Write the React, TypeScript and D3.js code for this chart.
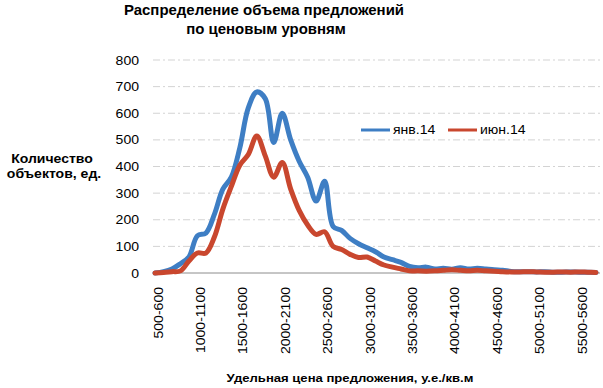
import React, { useRef, useEffect } from 'react';
import * as d3 from 'd3';

// price bands, step 100
const categories: string[] = [
  '500-600', '600-700', '700-800', '800-900', '900-1000',
  '1000-1100', '1100-1200', '1200-1300', '1300-1400', '1400-1500',
  '1500-1600', '1600-1700', '1700-1800', '1800-1900', '1900-2000',
  '2000-2100', '2100-2200', '2200-2300', '2300-2400', '2400-2500',
  '2500-2600', '2600-2700', '2700-2800', '2800-2900', '2900-3000',
  '3000-3100', '3100-3200', '3200-3300', '3300-3400', '3400-3500',
  '3500-3600', '3600-3700', '3700-3800', '3800-3900', '3900-4000',
  '4000-4100', '4100-4200', '4200-4300', '4300-4400', '4400-4500',
  '4500-4600', '4600-4700', '4700-4800', '4800-4900', '4900-5000',
  '5000-5100', '5100-5200', '5200-5300', '5300-5400', '5400-5500',
  '5500-5600', '5600-5700', '5700-5800',
];

const jan14: number[] = [
  0, 5, 15, 35, 60, 140, 150, 220, 315, 360,
  470, 620, 680, 655, 490, 600, 500, 420, 360, 270,
  345, 175, 160, 130, 110, 95, 80, 60, 50, 40,
  25, 20, 22, 15, 18, 14, 20, 15, 18, 15,
  12, 10, 6, 5, 5, 4, 5, 3, 3, 4,
  3, 3, 2,
];

const jun14: number[] = [
  0, 2, 5, 8, 45, 75, 75, 135, 240, 325,
  405, 445, 515, 440, 360, 415, 315, 235, 180, 145,
  155, 100, 88, 70, 58, 60, 45, 30, 22, 15,
  8, 8, 7, 8, 10, 12, 10, 8, 10, 8,
  7, 5, 4, 4, 5, 4, 3, 3, 4, 3,
  4, 3, 2,
];

const yTicks: number[] = [0, 100, 200, 300, 400, 500, 600, 700, 800];

const seriesNames = ['янв.14', 'июн.14'];
const seriesColors = ['#3e7ec4', '#c9472e'];

const FONT = '"Liberation Sans", Arial, sans-serif';
const SX = 1.17; // glyphs in the source are a bit wider than Arial

const App = () => {
  const svgRef = useRef<SVGSVGElement>(null);

  useEffect(() => {
    const width = 603;
    const height = 388;
    const left = 153;
    const right = 600;
    const top = 60;
    const bottom = 273;

    const svg = d3.select(svgRef.current)
      .attr('width', width)
      .attr('height', height);

    svg.selectAll('*').remove();

    const x = d3.scalePoint<string>()
      .domain(categories)
      .range([155, 596]);

    const y = d3.scaleLinear()
      .domain([0, 800])
      .range([bottom, top]);

    const label = (g: any, tx: number, ty: number, text: string, opts: any = {}) =>
      g.append('text')
        .attr('transform', `translate(${tx},${ty})${opts.rotate ? ' rotate(-90)' : ''} scale(${opts.sx || SX},1)`)
        .attr('font-family', FONT)
        .attr('font-size', opts.size || 12)
        .attr('font-weight', opts.bold ? 'bold' : 'normal')
        .attr('text-anchor', opts.anchor || 'middle')
        .attr('fill', '#000')
        .text(text);

    // title
    label(svg, 264, 15, 'Распределение объема предложений', { size: 14, bold: true, sx: 1.07 });
    label(svg, 266, 34, 'по ценовым уровням', { size: 14, bold: true, sx: 1.07 });

    // gridlines
    svg.append('g')
      .selectAll('line')
      .data(yTicks.filter(d => d > 0))
      .enter()
      .append('line')
      .attr('x1', left)
      .attr('x2', right)
      .attr('y1', d => y(d))
      .attr('y2', d => y(d))
      .attr('stroke', '#d3d3d3')
      .attr('stroke-width', 1)
      .attr('stroke-dasharray', '7,3,2,3');

    // y tick labels
    yTicks.forEach(t => label(svg, 139, y(t) + 4.5, String(t), { anchor: 'end' }));

    // x axis line
    svg.append('line')
      .attr('x1', left)
      .attr('x2', right)
      .attr('y1', bottom)
      .attr('y2', bottom)
      .attr('stroke', '#8c8c8c')
      .attr('stroke-width', 1);

    // x tick labels, every 5th band
    categories
      .filter((c, i) => i % 5 === 0)
      .forEach(c => label(svg, (x(c) as number) + 7.5, 287, c, { anchor: 'end', rotate: true }));

    // axis titles
    label(svg, 52, 163, 'Количество', { size: 12, bold: true });
    label(svg, 54, 178, 'объектов, ед.', { size: 12, bold: true });
    label(svg, 350, 382, 'Удельная цена предложения, у.е./кв.м', { size: 11.2, bold: true });

    // lines
    const line = d3.line<number>()
      .x((d, i) => x(categories[i]) as number)
      .y(d => y(d))
      .curve(d3.curveCatmullRom.alpha(0.5));

    [jan14, jun14].forEach((s, k) => {
      svg.append('path')
        .datum(s)
        .attr('d', line)
        .attr('fill', 'none')
        .attr('stroke', seriesColors[k])
        .attr('stroke-width', 5)
        .attr('stroke-linejoin', 'round')
        .attr('stroke-linecap', 'round');
    });

    // legend
    const legendX = [361, 448];
    seriesNames.forEach((name, k) => {
      svg.append('line')
        .attr('x1', legendX[k])
        .attr('x2', legendX[k] + 29)
        .attr('y1', 130)
        .attr('y2', 130)
        .attr('stroke', seriesColors[k])
        .attr('stroke-width', 3);
      label(svg, legendX[k] + 32, 134, name, { anchor: 'start' });
    });
  }, []);

  return (
    <svg ref={svgRef} style={{ position: 'absolute', left: 0, top: 0, background: '#fff' }}></svg>
  );
};

export default App;
